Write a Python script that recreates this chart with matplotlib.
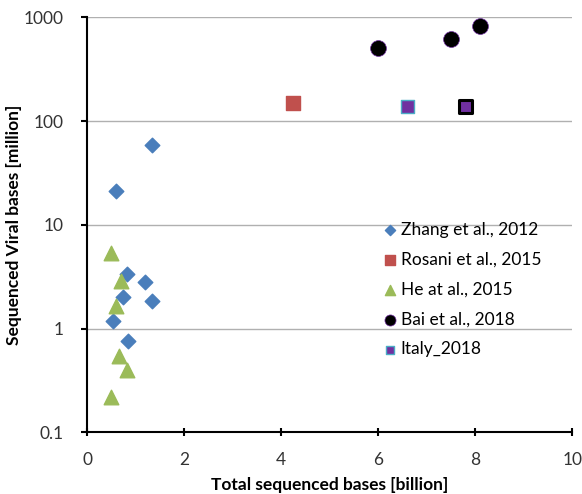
import matplotlib.pyplot as plt
from matplotlib.ticker import FixedLocator, NullLocator

plt.rcParams['font.family'] = ['Lato', 'DejaVu Sans']

# data (x in billion, y in million)
zhang_x = [1.33, 0.59, 0.82, 1.2, 0.75, 1.33, 0.53, 0.85]
zhang_y = [59, 21, 3.35, 2.8, 2.0, 1.85, 1.18, 0.76]
rosani_x = [4.25]
rosani_y = [150]
he_x = [0.5, 0.7, 0.6, 0.66, 0.82, 0.5]
he_y = [5.4, 2.9, 1.65, 0.54, 0.40, 0.22]
bai_x = [6.0, 7.5, 8.1]
bai_y = [510, 620, 830]
italy_x = [6.6, 7.8]
italy_y = [138, 138]
italy_edges = ['#4bacc6', 'black']
italy_lw = [1.0, 2.2]

fig = plt.figure(figsize=(5.82, 4.94), dpi=100)
ax = fig.add_axes([0.1495, 0.125, 0.834, 0.84])

ax.scatter(zhang_x, zhang_y, marker='D', s=55, color='#4a7ebb', label='Zhang et al., 2012', zorder=3)
ax.scatter(rosani_x, rosani_y, marker='s', s=110, color='#c0504d', label='Rosani et al., 2015', zorder=3)
ax.scatter(he_x, he_y, marker='^', s=110, color='#9bbb59', label='He at al., 2015', zorder=3)
ax.scatter(bai_x, bai_y, marker='o', s=130, color='black', edgecolors='#7030a0', linewidths=0.5,
           label='Bai et al., 2018', zorder=3)
ax.scatter(italy_x, italy_y, marker='s', s=80, color='#7030a0', edgecolors=italy_edges,
           linewidths=italy_lw, zorder=4)
ax.scatter([], [], marker='s', s=80, color='#7030a0', edgecolors='#4bacc6', linewidths=1.0,
           label='Italy_2018')

ax.set_yscale('log')
ax.set_xlim(0, 10)
ax.set_ylim(0.1, 1000)
ax.xaxis.set_major_locator(FixedLocator([0, 2, 4, 6, 8, 10]))
ax.yaxis.set_major_locator(FixedLocator([0.1, 1, 10, 100, 1000]))
ax.yaxis.set_minor_locator(NullLocator())
ax.set_yticklabels(['0.1', '1', '10', '100', '1000'])

ax.grid(axis='y', color='#b0b0b0', linewidth=1.0)
ax.set_axisbelow(True)
for s in ['top', 'right']:
    ax.spines[s].set_visible(False)
for s in ['left', 'bottom']:
    ax.spines[s].set_linewidth(1.5)
ax.tick_params(axis='x', direction='inout', length=6, width=1.5, labelsize=12.5, pad=11)
ax.tick_params(axis='y', direction='out', length=4, width=1.5, labelsize=12.5, pad=13)
for lbl in ax.get_xticklabels() + ax.get_yticklabels():
    lbl.set_color('#333333')

ax.set_xlabel('Total sequenced bases [billion]', fontsize=12.5, fontweight='bold', labelpad=7)
ax.set_ylabel('Sequenced Viral bases [million]', fontsize=12.5, fontweight='bold', labelpad=1)

leg = ax.legend(loc='upper left', bbox_to_anchor=(0.575, 0.545), frameon=False, fontsize=12.5,
                handletextpad=0.1, labelspacing=0.8, handlelength=1.0, markerscale=0.7)

fig.savefig('out.png', dpi=100)
